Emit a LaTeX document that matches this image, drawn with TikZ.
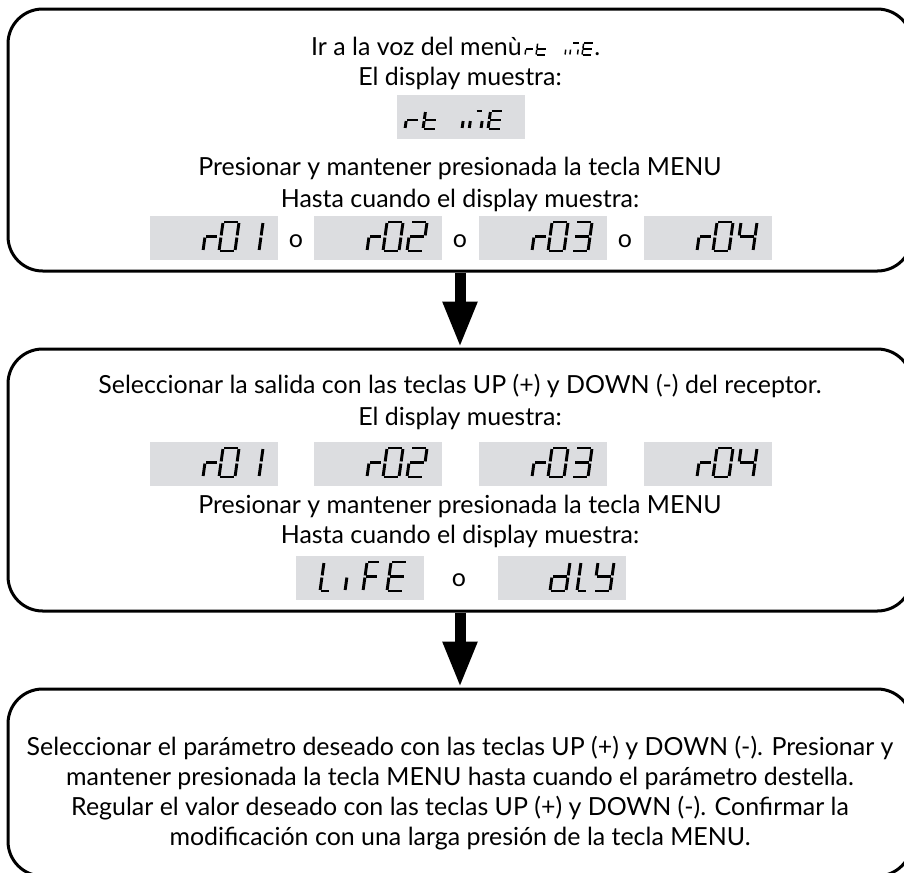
\documentclass[tikz,border=0pt]{standalone}
\usepackage{fontspec}
\setmainfont{Lato}
\usetikzlibrary{arrows.meta}
\definecolor{lcdgray}{RGB}{220,221,224}

% LCD segments, cell 16 x 29 (y grows downwards)
\newcommand\lcdsega{\draw[lcdseg] (0,-29) -- (16,-29);}
\newcommand\lcdsegb{\draw[lcdseg] (16,-29) -- (16,-14.5);}
\newcommand\lcdsegc{\draw[lcdseg] (16,-14.5) -- (16,0);}
\newcommand\lcdsegd{\draw[lcdseg] (0,0) -- (16,0);}
\newcommand\lcdsege{\draw[lcdseg] (0,0) -- (0,-14.5);}
\newcommand\lcdsegf{\draw[lcdseg] (0,-14.5) -- (0,-29);}
\newcommand\lcdsegg{\draw[lcdseg] (0,-14.5) -- (16,-14.5);}

% xscale, yscale, x, y (bottom left), segments
\newcommand\lcdchar[5]{%
  \begin{scope}[shift={(#3,#4)},xslant=0.14,xscale=#1,yscale=#2]
    \foreach \s in {#5}{\csname lcdseg\s\endcsname}
  \end{scope}}

% name, left, top, segments of the last digit
\newcommand\routdisp[4]{%
  \node[lcdbox] (#1) at ({#2+64},{#3+22}) {};
  \lcdchar{0.8}{1}{#2+53}{#3+35}{e,g}
  \lcdchar{1}{1}{#2+69}{#3+35}{a,b,c,d,e,f}
  \lcdchar{1}{1}{#2+93}{#3+35}{#4}}

\tikzset{
  stepbox/.style={draw,line width=2.25pt,rounded corners=26pt,minimum width=678pt,inner sep=0pt},
  lcdbox/.style={fill=lcdgray,minimum width=96pt,minimum height=33pt,inner sep=0pt},
  lcdseg/.style={line width=2.2pt,shorten <=0.8pt,shorten >=0.8pt},
  textline/.style={anchor=base,font=\fontsize{18.7}{22}\selectfont,inner sep=0pt},
  flow/.style={line width=8.25pt,-{Triangle[length=34.5pt,width=24pt]}}
}

\begin{document}
\begin{tikzpicture}[x=0.75pt,y=-0.75pt]
\useasboundingbox (0,0) rectangle (904,872);

% the three steps
\node[stepbox,minimum height=196.5pt] (menu) at (460,140) {};
\node[stepbox,minimum height=196.5pt] (output) at (460,480) {};
\node[stepbox,minimum height=140.25pt] (param) at (460,782.5) {};
\draw[flow] (menu.south) -- (output.north);
\draw[flow] (output.south) -- (param.north);

% step 1
\node[textline,anchor=base east] (goto) at (522,55) {Ir a la voz del menù};
\node[textline,anchor=base west] (gotodot) at (594,55) {.};
\begin{scope}[lcdseg/.style={line width=1.1pt,shorten <=0.4pt,shorten >=0.4pt}]
  \lcdchar{0.5}{0.41}{525}{55}{e,g}
  \lcdchar{0.6}{0.41}{536}{55}{f,e,d,g}
  \lcdchar{0.3}{0.41}{565}{55}{e,c}
  \lcdchar{0.4}{0.41}{571}{55}{a,c}
  \lcdchar{0.6}{0.41}{582}{55}{a,f,g,e,d}
\end{scope}
\node[textline] (shows1) at (460,85) {El display muestra:};
\node[lcdbox] (rtime) at (461,116.5) {};
\lcdchar{0.8}{0.62}{405}{129}{e,g}
\lcdchar{0.8}{0.62}{423}{129}{f,e,d,g}
\lcdchar{0.45}{0.62}{462}{129}{e,c}
\lcdchar{0.5}{0.62}{473}{129}{a,c}
\lcdchar{0.8}{0.62}{488}{129}{a,f,g,e,d}
\node[textline] (hold1) at (460,175) {Presionar y mantener presionada la tecla MENU};
\node[textline] (until1) at (460,207) {Hasta cuando el display muestra:};
\routdisp{ra}{150}{216}{b,c}
\routdisp{rb}{314}{216}{a,b,g,e,d}
\routdisp{rc}{479}{216}{a,b,g,c,d}
\routdisp{rd}{644}{216}{f,g,b,c}
\node[textline] (or1) at (296,247) {o};
\node[textline] (or2) at (460,247) {o};
\node[textline] (or3) at (625,247) {o};

% step 2
\node[textline] (select) at (460,393) {Seleccionar la salida con las teclas UP (+) y DOWN (-) del receptor.};
\node[textline] (shows2) at (460,425) {El display muestra:};
\routdisp{sa}{150}{442}{b,c}
\routdisp{sb}{314}{442}{a,b,g,e,d}
\routdisp{sc}{479}{442}{a,b,g,c,d}
\routdisp{sd}{644}{442}{f,g,b,c}
\node[textline] (hold2) at (460,513) {Presionar y mantener presionada la tecla MENU};
\node[textline] (until2) at (460,543) {Hasta cuando el display muestra:};
\node[lcdbox] (life) at (360,578) {};
\lcdchar{0.6}{1}{320}{591}{f,e,d}
\lcdchar{0.5}{1}{345}{591}{e}
\lcdchar{0.8}{1}{363}{591}{a,f,g,e}
\lcdchar{1}{1}{387}{591}{a,f,g,e,d}
\node[textline] (or4) at (459,586) {o};
\node[lcdbox] (dly) at (562,578) {};
\lcdchar{1}{1}{550}{591}{b,c,d,e,g}
\lcdchar{0.6}{1}{577}{591}{f,e,d}
\lcdchar{1}{1}{594}{591}{f,g,b,c,d}

% step 3
\node[textline] (par1) at (460,755) {Seleccionar el parámetro deseado con las teclas UP (+) y DOWN (-). Presionar y};
\node[textline] (par2) at (460,785) {mantener presionada la tecla MENU hasta cuando el parámetro destella.};
\node[textline] (par3) at (460,815) {Regular el valor deseado con las teclas UP (+) y DOWN (-). Confirmar la};
\node[textline] (par4) at (460,845) {modificación con una larga presión de la tecla MENU.};
\end{tikzpicture}
\end{document}
